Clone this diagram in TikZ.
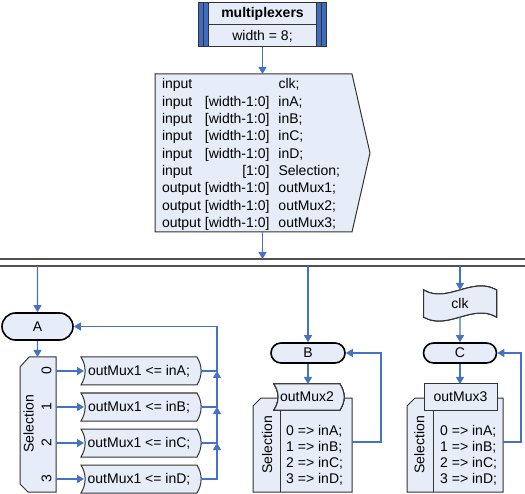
\documentclass[tikz,border=0pt]{standalone}
\usepackage{fontspec}
\setmainfont{Liberation Sans}
\usetikzlibrary{shapes.misc, arrows.meta, positioning, calc, backgrounds}

\definecolor{boxfill}{HTML}{E6ECF8}
\definecolor{flowblue}{HTML}{4472C4}
\definecolor{edgegray}{HTML}{333333}
\definecolor{barblue}{HTML}{3D6CC0}
\definecolor{busgray}{HTML}{505050}

% outlines of the custom symbols, drawn round an empty named node
\newcommand{\dataoutline}[1]{\draw[outline] (#1.north west) -- (#1.north east) .. controls +(5.5,9) and +(5.5,-9) .. (#1.south east) -- (#1.south west) .. controls +(5.5,-9) and +(5.5,9) .. (#1.north west) -- cycle;}
\newcommand{\tapeoutline}[1]{\draw[outline] (#1.north west) .. controls +(24,14) and +(-24,-14) .. (#1.north east) -- (#1.south east) .. controls +(-24,-14) and +(24,14) .. (#1.south west) -- cycle;}
\newcommand{\caseoutline}[1]{\draw[outline] ($(#1.north west)+(8,0)$) -- (#1.north east) -- (#1.south east) -- (#1.south west) -- ($(#1.north west)+(0,8)$) -- cycle;}

\begin{document}
\begin{tikzpicture}[
    x=1pt, y=-1pt,
    font=\fontsize{14}{17.3}\selectfont,
    slot/.style={inner sep=0pt, outer sep=0pt},
    outline/.style={draw=edgegray, fill=boxfill, line width=1pt},
    term/.style={rounded rectangle, draw=black, fill=boxfill, line width=1.6pt, inner sep=0pt, minimum height=20pt},
    arrow/.style={-{Triangle[length=7pt, width=8pt]}, draw=flowblue, line width=1.1pt},
    busline/.style={draw=busgray, line width=2pt},
    armtext/.style={align=left, inner sep=0pt, anchor=west, font=\fontsize{14}{16}\selectfont},
    sidetext/.style={rotate=90, inner sep=0pt}
]
    \useasboundingbox (0,0) rectangle (525,494);

    % module header
    \node[slot, outline, minimum width=108pt, minimum height=22pt, font=\fontsize{14}{17}\bfseries] (modname) at (262.5,14) {multiplexers};
    \node[slot, outline, minimum width=108pt, minimum height=22pt, below=0pt of modname] (modparam) {width = 8;};
    \draw[outline, fill=barblue] ($(modname.north west)+(-10,0)$) rectangle (modparam.south west);
    \draw[outline, fill=barblue] (modname.north east) rectangle ($(modparam.south east)+(10,0)$);
    \draw[edgegray, line width=1pt] ($(modname.north west)+(-5,0)$) -- ($(modparam.south west)+(-5,0)$);
    \draw[edgegray, line width=1pt] ($(modname.north east)+(5,0)$) -- ($(modparam.south east)+(5,0)$);

    % port list
    \node[slot, minimum width=215pt, minimum height=158pt] (ports) at (262.5,153) {};
    \draw[outline] (ports.north west) -- ($(ports.north east)+(-18,0)$) -- (ports.east) -- ($(ports.south east)+(-18,0)$) -- (ports.south west) -- cycle;
    \node[slot, anchor=base west] (portlist) at (162,89) {\begin{tabular}[t]{@{}l@{\hspace{4pt}}r@{\hspace{9pt}}l@{}}
        input & & clk;\\
        input & [width-1:0] & inA;\\
        input & [width-1:0] & inB;\\
        input & [width-1:0] & inC;\\
        input & [width-1:0] & inD;\\
        input & [1:0] & Selection;\\
        output & [width-1:0] & outMux1;\\
        output & [width-1:0] & outMux2;\\
        output & [width-1:0] & outMux3;
    \end{tabular}};
    \draw[arrow] (modparam) -- (ports);

    % bus
    \node[slot, minimum width=525pt, minimum height=7pt] (bus) at (262.5,262.5) {};
    \draw[busline] (bus.north west) -- (bus.north east);
    \draw[busline] (bus.south west) -- (bus.south east);
    \draw[arrow] (ports.south) -- (ports.south |- bus.north);

    % process A
    \node[term, minimum width=71pt, minimum height=27pt] (A) at (37.5,326.5) {A};
    \node[slot, minimum width=36pt, minimum height=135pt] (selA) at (38,424.5) {};
    \node[sidetext] (selAname) at (28.5,424) {Selection};
    \coordinate (backA) at (217,326.5);
    \foreach \val/\src/\row in {0/inA/a, 1/inB/b, 2/inC/c, 3/inD/d} {
        \node[slot, minimum width=116pt, minimum height=28pt] (arm\row) at (139,{371+36*\val}) {outMux1 <= \src;};
        \node[sidetext] (selA\val) at (46.5,{371+36*\val}) {\val};
        \draw[arrow, shorten >=-3pt] (selA.east |- arm\row) -- (arm\row.west);
    }
    \draw[arrow] (bus.south -| A) -- (A);
    \draw[arrow] (A) -- (A |- selA.north);
    \draw[arrow, shorten <=4pt] (arma.east) -| (backA) -- (A.east);
    \foreach \row/\prev in {b/a, c/b, d/c}
        \draw[arrow, shorten <=4pt] (arm\row.east) -| (arm\prev.east -| backA);

    % process B
    \node[term, minimum width=74pt] (B) at (308,353) {B};
    \node[slot, minimum width=99pt, minimum height=94pt] (caseB) at (302.5,445) {};
    \node[slot, minimum width=66pt, minimum height=26pt] (outB) at (307,397) {outMux2};
    \node[sidetext] (selBname) at (267,445) {Selection};
    \node[armtext] (armsB) at (286,455) {0 => inA;\\1 => inB;\\2 => inC;\\3 => inD;};
    \coordinate (divB) at ($(caseB.south west)+(27,0)$);
    \draw[arrow] (bus.south -| B) -- (B);
    \draw[arrow] (B) -- (B |- outB.north);
    \draw[arrow] ($(caseB.east)+(0,-3)$) -- ++(29,0) |- (B.east);

    % process C
    \node[slot, minimum width=73pt, minimum height=27pt] (clkin) at (460,303.5) {clk};
    \node[term, minimum width=73pt] (C) at (460,353) {C};
    \node[slot, minimum width=96pt, minimum height=94pt] (caseC) at (455,445) {};
    \node[slot, outline, minimum width=73pt, minimum height=26pt] (outC) at (460.5,397) {outMux3};
    \node[sidetext] (selCname) at (419.3,445) {Selection};
    \node[armtext] (armsC) at (440,455) {0 => inA;\\1 => inB;\\2 => inC;\\3 => inD;};
    \coordinate (divC) at ($(caseC.south west)+(26,0)$);
    \draw[arrow] (bus.south -| clkin) -- (clkin);
    \draw[arrow] (clkin) -- (C);
    \draw[arrow] (C) -- (C |- outC.north);
    \draw[arrow] ($(caseC.east)+(0,-3)$) -- ++(18,0) |- (C.east);

    % symbol outlines behind the texts
    \begin{scope}[on background layer]
        \caseoutline{caseB}
        \caseoutline{caseC}
        \draw[outline] ($(selA.north west)+(9,0)$) -- (selA.north east) -- (selA.south east) -- ($(selA.south west)+(8,0)$) -- ($(selA.south west)+(0,-8)$) -- ($(selA.north west)+(0,10)$) -- cycle;
        \foreach \row in {a, b, c, d}
            \dataoutline{arm\row}
        \dataoutline{outB}
        \tapeoutline{clkin}
        \draw[edgegray, line width=1pt] (divB) -- (divB |- outB.south);
        \draw[edgegray, line width=1pt] (divC) -- (divC |- outC.south);
    \end{scope}
\end{tikzpicture}
\end{document}
